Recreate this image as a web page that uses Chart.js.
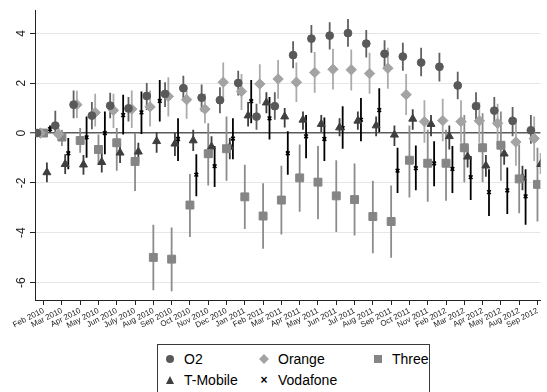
<!DOCTYPE html>
<html>
<head>
<meta charset="utf-8">
<script src="https://cdn.jsdelivr.net/npm/chart.js@4.4.1/dist/chart.umd.min.js"></script>
<style>
html, body { margin:0; padding:0; background:#fff; overflow:hidden; }
#caixa { position:relative; width:547px; height:392px; }
#legenda {
    position:absolute; left:157px; top:344px; width:271px; height:60px;
    border:1px solid #3a3a3a; background:#fff;
    font-family:"Liberation Sans", Arial, sans-serif; font-size:14px; color:#000;
}
.marca { position:absolute; transform:translate(-50%, -50%); }
.texto { position:absolute; line-height:16px; white-space:nowrap; }
.circulo { width:8px; height:8px; border-radius:50%; background:#595959; }
.losango { width:7px; height:7px; background:#a3a3a3; transform:translate(-50%, -50%) rotate(45deg); }
.quadrado { width:8px; height:8px; background:#858585; }
.triangulo { width:0; height:0; border-left:4.5px solid transparent; border-right:4.5px solid transparent; border-bottom:8px solid #3f3f3f; }
.xis { font-size:12px; font-weight:bold; line-height:12px; }
</style>
</head>
<body>
<div id="caixa">
    <canvas id="grafico"></canvas>
    <div id="legenda"></div>
</div>
<script>
"use strict";

/* =========================
   DADOS
========================= */

const meses = ["Feb 2010","Mar 2010","Apr 2010","May 2010","Jun 2010","July 2010","Aug 2010","Sep 2010",
    "Oct 2010","Nov 2010","Dec 2010","Jan 2011","Feb 2011","Mar 2011","Apr 2011","May 2011","Jun 2011",
    "Jul 2011","Aug 2011","Sep 2011","Oct 2011","Nov 2011","Feb 2012","Mar 2012","Apr 2012","May 2012",
    "Aug 2012","Sep 2012"];

const yTicks = [-6, -4, -2, 0, 2, 4];

const o2   = [0, 0.30, 1.14, 0.70, 1.10, 0.99, 1.49, 1.57, 1.80, 1.42, 1.32, 2.01, 0.66, 1.08,
    3.13, 3.79, 3.91, 4.01, 3.59, 3.18, 3.07, 2.83, 2.66, 1.91, 1.08, 0.90, 0.49, 0.11];
const o2Lo = [-0.15, 0.00, 0.59, 0.15, 0.59, 0.46, 0.92, 1.05, 1.32, 0.86, 0.79, 1.51, 0.13, 0.53,
    2.60, 3.22, 3.35, 3.46, 3.03, 2.63, 2.50, 2.28, 2.07, 1.36, 0.53, 0.33, -0.13, -0.43];
const o2Hi = [0.15, 0.89, 1.71, 1.25, 1.62, 1.45, 2.01, 2.04, 2.30, 1.95, 1.84, 2.50, 1.18, 1.64,
    3.68, 4.34, 4.45, 4.58, 4.14, 3.72, 3.62, 3.42, 3.22, 2.46, 1.64, 1.45, 1.05, 0.72];

const orange   = [0, -0.05, 1.14, 0.82, 0.91, 0.96, 1.05, 1.47, 1.34, 0.96, 2.04, 1.67, 1.97, 2.17,
    2.04, 2.43, 2.56, 2.54, 2.39, 2.60, 1.54, 0.46, 0.50, 0.46, 0.49, 0.39, -0.36, -0.22];
const orangeLo = [-0.15, -0.30, 0.60, 0.26, 0.20, 0.20, 0.26, 0.66, 0.57, 0.39, 1.25, 0.92, 1.18, 1.38,
    1.25, 1.62, 1.75, 1.71, 1.58, 1.78, 0.72, -0.39, -0.33, -0.39, -0.39, -0.49, -1.31, -1.12];
const orangeHi = [0.15, 0.20, 1.70, 1.58, 1.58, 1.71, 1.71, 2.24, 1.91, 1.58, 2.83, 2.37, 2.76, 2.93,
    2.83, 3.25, 3.38, 3.35, 3.22, 3.42, 2.37, 1.32, 1.38, 1.32, 1.25, 1.18, 0.59, 0.66];

const three   = [0, -0.16, -0.30, -0.66, -0.39, -1.14, -4.99, -5.06, -2.89, -0.83, -0.63, -2.56, -3.33, -2.69,
    -1.80, -1.97, -2.52, -2.67, -3.35, -3.55, -1.09, -1.21, -1.21, -0.59, -0.59, -0.49, -1.84, -2.06];
const threeLo = [-0.15, -0.52, -0.79, -1.25, -1.51, -2.33, -6.31, -6.35, -4.17, -2.10, -1.91, -3.85, -4.64, -4.07,
    -3.16, -3.46, -3.97, -4.11, -4.82, -5.00, -2.59, -2.76, -2.72, -1.97, -1.97, -1.91, -3.22, -3.55];
const threeHi = [0.15, 0.13, 0.20, -0.06, 0.20, 0.00, -3.68, -3.79, -1.64, 0.39, 0.66, -1.27, -2.01, -1.31,
    -0.46, -0.52, -1.09, -1.22, -1.91, -2.10, 0.30, 0.13, 0.13, 0.72, 0.79, 0.86, -0.46, -0.59];

const tmobile   = [-1.58, -1.25, -1.27, -1.17, -0.79, -0.75, -0.33, -0.43, -0.30, -0.55, -0.56, 0.70, 1.22, 0.66,
    0.53, 0.36, 0.22, 0.49, 0.30, -0.07, 0.57, 0.36, -0.13, -0.95, -1.31, -0.83, -1.80, -1.25];
const tmobileLo = [-1.97, -1.64, -1.67, -1.58, -1.20, -1.18, -0.79, -0.92, -0.72, -0.99, -1.05, 0.26, 0.79, 0.22,
    0.13, 0.04, -0.13, 0.13, -0.13, -0.52, 0.13, -0.13, -0.66, -1.38, -1.75, -1.27, -2.30, -1.64];
const tmobileHi = [-1.18, -0.85, -0.88, -0.80, -0.40, -0.39, 0.04, 0.00, 0.13, -0.13, -0.20, 1.25, 1.64, 1.01,
    0.86, 0.72, 0.59, 0.86, 0.66, 0.30, 0.96, 0.72, 0.30, -0.52, -0.88, -0.39, -1.31, -0.80];

const vodafone   = [0.16, -0.81, -0.17, 0.00, 0.72, 0.83, 1.29, -0.24, -1.67, -1.33, -0.22, 1.28, 0.59, -0.81,
    -0.13, -0.24, 0.20, 0.53, 0.92, -1.51, -1.41, -1.22, -1.44, -1.77, -2.37, -2.30, -2.54, null];
const vodafoneLo = [0.04, -1.45, -0.99, -0.85, -0.06, -0.04, 0.46, -1.12, -2.54, -2.17, -1.05, 0.39, -0.26, -1.67,
    -1.01, -1.12, -0.63, -0.33, 0.04, -2.41, -2.30, -2.14, -2.41, -2.69, -3.33, -3.25, -3.68, null];
const vodafoneHi = [0.30, -0.20, 0.66, 0.86, 1.54, 1.67, 2.13, 0.59, -0.85, -0.52, 0.59, 2.13, 1.45, 0.07,
    0.72, 0.62, 1.08, 1.41, 1.80, -0.59, -0.50, -0.33, -0.52, -0.92, -1.45, -1.38, -1.45, null];

/* =========================
   SERIES (estilo)
========================= */

const series = [
    { nome:"O2",       val:o2,       lo:o2Lo,       hi:o2Hi,       desloc:-0.36, estilo:"circle",   raio:3.9, cor:"#595959", barra:"#606060", borda:1, classe:"circulo" },
    { nome:"Orange",   val:orange,   lo:orangeLo,   hi:orangeHi,   desloc:-0.18, estilo:"rectRot",  raio:5.2, cor:"#a3a3a3", barra:"#ababab", borda:1, classe:"losango" },
    { nome:"Three",    val:three,    lo:threeLo,    hi:threeHi,    desloc:0,     estilo:"rect",     raio:5.6, cor:"#858585", barra:"#8c8c8c", borda:1, classe:"quadrado" },
    { nome:"T-Mobile", val:tmobile,  lo:tmobileLo,  hi:tmobileHi,  desloc:0.18,  estilo:"triangle", raio:4.6, cor:"#3f3f3f", barra:"#3d3d3d", borda:1, classe:"triangulo" },
    { nome:"Vodafone", val:vodafone, lo:vodafoneLo, hi:vodafoneHi, desloc:0.35,  estilo:"crossRot", raio:2.6, cor:"#000000", barra:"#000000", borda:1.6, classe:"xis" }
];

/* =========================
   BARRAS DE ERRO
========================= */

const barrasErro = {

    id:"barrasErro",

    beforeDatasetsDraw: function(chart){

        const ctx = chart.ctx;
        const xs = chart.scales.x;
        const ys = chart.scales.y;
        const area = chart.chartArea;

        ctx.save();
        ctx.beginPath();
        ctx.rect(area.left, area.top, area.right - area.left, area.bottom - area.top);
        ctx.clip();

        chart.data.datasets.forEach(function(ds){

            ctx.strokeStyle = ds.corBarra;
            ctx.lineWidth = 1.8;

            ds.data.forEach(function(p){

                const x = xs.getPixelForValue(p.x);

                ctx.beginPath();
                ctx.moveTo(x, ys.getPixelForValue(p.lo));
                ctx.lineTo(x, ys.getPixelForValue(p.hi));
                ctx.stroke();

            });

        });

        ctx.restore();

    }

};

/* =========================
   GRAFICO
========================= */

Chart.defaults.font.family = '"Liberation Sans", Arial, sans-serif';
Chart.defaults.color = "#333";

const datasets = series.map(function(s){

    const pontos = [];

    s.val.forEach(function(v, i){

        if(v == null) return;

        pontos.push({ x: i + s.desloc, y: v, lo: s.lo[i], hi: s.hi[i] });

    });

    return {
        label: s.nome,
        data: pontos,
        corBarra: s.barra,
        pointStyle: s.estilo,
        pointRadius: s.raio,
        pointHoverRadius: s.raio,
        backgroundColor: s.cor,
        borderColor: s.cor,
        borderWidth: s.borda,
        showLine: false
    };

});

new Chart(document.getElementById("grafico"), {

    type:"scatter",

    data:{ datasets: datasets },

    options:{

        animation:false,
        responsive:true,
        maintainAspectRatio:false,
        events:[],

        layout:{ padding:{ top:3, right:0, bottom:0, left:0 } },

        plugins:{
            legend:{ display:false },
            tooltip:{ enabled:false }
        },

        scales:{

            x:{
                type:"linear",
                min:-0.47,
                max:27.16,
                afterBuildTicks: function(scale){
                    scale.ticks = meses.map(function(m, i){ return { value:i }; });
                },
                afterFit: function(scale){ scale.height = 92; },
                ticks:{
                    autoSkip:false,
                    minRotation:27,
                    maxRotation:27,
                    padding:1,
                    color:"#222",
                    font:{ size:8 },
                    callback: function(v){ return meses[v]; }
                },
                grid:{ drawOnChartArea:false, tickLength:5, tickColor:"#222", tickWidth:1 },
                border:{ color:"#222", width:1 }
            },

            y:{
                min:-6.7,
                max:4.93,
                afterBuildTicks: function(scale){
                    scale.ticks = yTicks.map(function(v){ return { value:v }; });
                },
                afterFit: function(scale){ scale.width = 35; },
                ticks:{
                    minRotation:90,
                    maxRotation:90,
                    crossAlign:"center",
                    padding:3,
                    color:"#222",
                    font:{ size:12 }
                },
                grid:{
                    color: function(c){ return c.tick && c.tick.value === 0 ? "#5a5a5a" : "#e6e6e6"; },
                    lineWidth: function(c){ return c.tick && c.tick.value === 0 ? 1.5 : 1; },
                    tickLength:5,
                    tickColor:"#222",
                    tickWidth:1
                },
                border:{ color:"#222", width:1 }
            }

        }

    },

    plugins:[barrasErro]

});

/* =========================
   LEGENDA
========================= */

const colunas = [12, 106, 220];
const linhas = [14, 35];

const legenda = document.getElementById("legenda");

series.forEach(function(s, i){

    const col = i % 3;
    const lin = Math.floor(i / 3);

    const marca = document.createElement("div");
    marca.className = "marca " + s.classe;
    marca.style.left = colunas[col] + "px";
    marca.style.top = linhas[lin] + "px";
    if(s.classe === "xis") marca.innerText = "\u00d7";
    legenda.appendChild(marca);

    const texto = document.createElement("div");
    texto.className = "texto";
    texto.innerText = s.nome;
    texto.style.left = (colunas[col] + 14) + "px";
    texto.style.top = (linhas[lin] - 8) + "px";
    legenda.appendChild(texto);

});
</script>
</body>
</html>
